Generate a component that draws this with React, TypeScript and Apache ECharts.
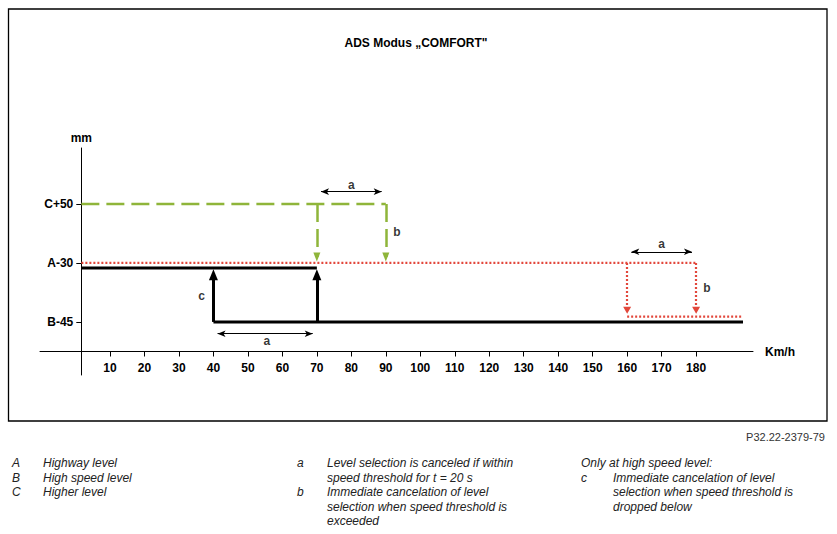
import React, { useEffect, useRef } from "react";
import * as echarts from "echarts";

// ---- data ----
const levelLabels = ["B-45", "A-30", "C+50"];
const levelValues = [0.5, 1.5, 2.5]; // B, A, C (schematic levels)
const speedTicks = [10, 20, 30, 40, 50, 60, 70, 80, 90, 100, 110, 120, 130, 140, 150, 160, 170, 180];
const greenDrops = [70, 90]; // C -> A drops (b)
const redDrops = [160, 180]; // A -> B drops (b)
const blackRises = [40, 70]; // B -> A rises (c)
const greenEnd = 90;
const redEnd = 180;
const blackUpperEnd = 70;
const blackLowerStart = 40;
const speedStart = 1.7;
const speedEnd = 193.6;
const dimArrows = [
  [70, 90, "C", 0.21],
  [40, 70, "B", -0.2],
  [160, 180, "A", 0.19],
];
const letterLabels = [
  { name: "a", x: 80, lvl: "C", dy: 0.32 },
  { name: "a", x: 55.5, lvl: "B", dy: -0.32 },
  { name: "a", x: 170, lvl: "A", dy: 0.32 },
  { name: "b", x: 93.2, lvl: "A", dy: 0.53 },
  { name: "b", x: 183.1, lvl: "B", dy: 0.58 },
  { name: "c", x: 36.6, lvl: "B", dy: 0.44 },
];
const legendCol1 = [
  ["A", "Highway level"],
  ["B", "High speed level"],
  ["C", "Higher level"],
];
const legendCol2 = [
  ["a", "Level selection is canceled if within"],
  ["", "speed threshold for t = 20 s"],
  ["b", "Immediate cancelation of level"],
  ["", "selection when speed threshold is"],
  ["", "exceeded"],
];
const legendCol3Head = "Only at high speed level:";
const legendCol3 = [
  ["c", "Immediate cancelation of level"],
  ["", "selection when speed threshold is"],
  ["", "dropped below"],
];
const chartTitle = "ADS Modus \u201ECOMFORT\"";
const figureCode = "P32.22-2379-79";

const FONT = "'Liberation Sans', Arial, Helvetica, sans-serif";
const GREEN = "#8fb53a";
const RED = "#e2473b";
const BLACK = "#000000";

export default function App() {
  const ref = useRef<HTMLDivElement>(null);
  useEffect(() => {
    if (!ref.current) return;
    const chart = echarts.init(ref.current, null, { renderer: "svg" });
    const B = levelValues[0];
    const A = levelValues[1];
    const C = levelValues[2];
    const lv: Record<string, number> = { A, B, C };

    const legendTexts: any[] = [];
    const rowY = (i: number) => 463 + i * 14.5;
    const ital = `italic 12px ${FONT}`;
    const txt = (x: number, y: number, t: string) => ({
      type: "text", x, y, style: { text: t, font: ital, fill: "#222", verticalAlign: "middle" },
    });
    legendCol1.forEach((r, i) => {
      legendTexts.push(txt(12, rowY(i), r[0]));
      legendTexts.push(txt(43, rowY(i), r[1]));
    });
    legendCol2.forEach((r, i) => {
      if (r[0]) legendTexts.push(txt(297, rowY(i), r[0]));
      legendTexts.push(txt(327, rowY(i), r[1]));
    });
    legendTexts.push(txt(581, rowY(0), legendCol3Head));
    legendCol3.forEach((r, i) => {
      if (r[0]) legendTexts.push(txt(581, rowY(i + 1), r[0]));
      legendTexts.push(txt(613, rowY(i + 1), r[1]));
    });

    const option: any = {
      animation: false,
      backgroundColor: "#ffffff",
      textStyle: { fontFamily: FONT },
      grid: { left: 40, right: 84, top: 148, bottom: 159, containLabel: false },
      xAxis: {
        type: "value",
        min: -10.3,
        max: 196.5,
        position: "bottom",
        offset: -23.5,
        name: "Km/h",
        nameLocation: "end",
        nameGap: 12,
        nameTextStyle: { fontFamily: FONT, fontWeight: "bold", fontSize: 12, color: BLACK },
        axisLine: { show: true, onZero: false, lineStyle: { color: BLACK, width: 1 } },
        axisTick: { show: true, length: 5, customValues: speedTicks, lineStyle: { color: BLACK, width: 1 } },
        axisLabel: { customValues: speedTicks, margin: 10, fontFamily: FONT, fontWeight: "bold", fontSize: 12, color: BLACK },
        splitLine: { show: false },
      },
      yAxis: {
        type: "value",
        min: -0.4,
        max: 3.45,
        offset: -41.3,
        name: "mm",
        nameLocation: "end",
        nameGap: 4,
        nameTextStyle: { fontFamily: FONT, fontWeight: "bold", fontSize: 12, color: BLACK, align: "center" },
        axisLine: { show: true, onZero: false, lineStyle: { color: BLACK, width: 1 } },
        axisTick: { show: true, length: 5, customValues: levelValues, lineStyle: { color: BLACK, width: 1 } },
        axisLabel: {
          customValues: levelValues,
          margin: 8,
          fontFamily: FONT,
          fontWeight: "bold",
          fontSize: 12,
          color: BLACK,
          formatter: (v: number) => {
            const i = levelValues.findIndex((x) => Math.abs(x - v) < 1e-6);
            return i >= 0 ? levelLabels[i] : "";
          },
        },
        splitLine: { show: false },
      },
      graphic: [
        { type: "rect", shape: { x: 8.5, y: 9, width: 818.5, height: 412 }, style: { fill: "none", stroke: BLACK, lineWidth: 1.3 }, z: 100 },
        { type: "text", x: 416, y: 43, style: { text: chartTitle, font: `bold 12px ${FONT}`, fill: BLACK, align: "center", verticalAlign: "middle" } },
        { type: "text", x: 825, y: 437, style: { text: figureCode, font: `11px ${FONT}`, fill: "#333", align: "right", verticalAlign: "middle" } },
        ...legendTexts,
      ],
      series: [
        {
          name: "green",
          type: "line",
          symbol: "none",
          z: 3,
          data: [[speedStart, C], [greenEnd, C]],
          lineStyle: { color: GREEN, width: 2.5, type: [18, 7] },
          markLine: {
            silent: true,
            symbol: ["none", "triangle"],
            symbolSize: [7, 9],
            label: { show: false },
            lineStyle: { color: GREEN, width: 2.5, type: [18, 7] },
            itemStyle: { color: GREEN },
            data: greenDrops.map((s) => [{ coord: [s, C] }, { coord: [s, A + 0.1] }]),
          },
        },
        {
          name: "redA",
          type: "line",
          symbol: "none",
          z: 4,
          data: [[speedStart, A], [redEnd, A]],
          lineStyle: { color: RED, width: 2.2, type: [2, 2] },
          markLine: {
            silent: true,
            symbol: ["none", "triangle"],
            symbolSize: [8, 7],
            label: { show: false },
            lineStyle: { color: RED, width: 2.2, type: [2, 2] },
            itemStyle: { color: RED },
            data: redDrops.map((s) => [{ coord: [s, A] }, { coord: [s, B + 0.2] }]),
          },
        },
        {
          name: "redB",
          type: "line",
          symbol: "none",
          z: 4,
          data: [[redDrops[0], B + 0.09], [speedEnd, B + 0.09]],
          lineStyle: { color: RED, width: 2.2, type: [2, 2] },
        },
        {
          name: "blackA",
          type: "line",
          symbol: "none",
          z: 5,
          data: [[speedStart, A - 0.085], [blackUpperEnd, A - 0.085]],
          lineStyle: { color: BLACK, width: 3 },
        },
        {
          name: "blackB",
          type: "line",
          symbol: "none",
          z: 5,
          data: [[blackLowerStart, B], [speedEnd, B]],
          lineStyle: { color: BLACK, width: 3 },
          markLine: {
            silent: true,
            symbol: ["none", "triangle"],
            symbolSize: [9, 11],
            label: { show: false },
            lineStyle: { color: BLACK, width: 3, type: "solid" },
            itemStyle: { color: BLACK },
            data: blackRises.map((s) => [{ coord: [s, B] }, { coord: [s, A - 0.2] }]),
          },
        },
        {
          name: "dims",
          type: "line",
          symbol: "none",
          z: 6,
          data: [[speedStart, B]],
          lineStyle: { width: 0 },
          markLine: {
            silent: true,
            symbol: ["arrow", "arrow"],
            symbolSize: [5, 8],
            label: { show: false },
            lineStyle: { color: BLACK, width: 1, type: "solid" },
            itemStyle: { color: BLACK },
            data: dimArrows.map((d: any) => [
              { coord: [d[0] + 1.2, lv[d[2]] + d[3]] },
              { coord: [d[1] - 1.2, lv[d[2]] + d[3]] },
            ]),
          },
        },
        {
          name: "letters",
          type: "scatter",
          symbolSize: 0,
          z: 7,
          silent: true,
          data: letterLabels.map((l) => ({ name: l.name, value: [l.x, lv[l.lvl] + l.dy] })),
          label: {
            show: true,
            position: "inside",
            formatter: "{b}",
            fontFamily: FONT,
            fontWeight: "bold",
            fontSize: 12,
            color: BLACK,
          },
        },
      ],
    };
    chart.setOption(option);
    return () => chart.dispose();
  }, []);
  return <div ref={ref} style={{ position: "fixed", left: 0, top: 0, width: 837, height: 534 }} />;
}
